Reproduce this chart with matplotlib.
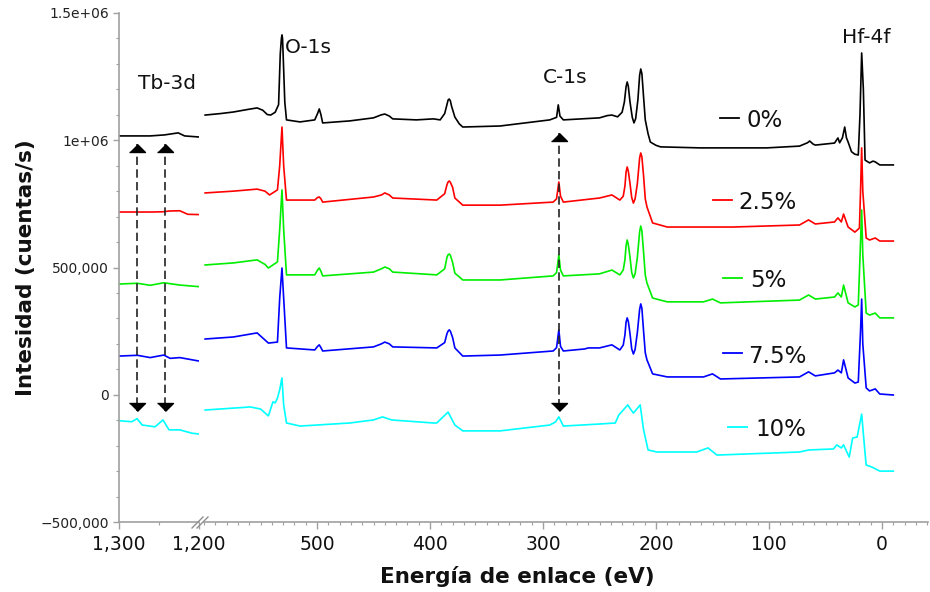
import matplotlib
matplotlib.use("Agg")
import matplotlib.pyplot as plt
from matplotlib.lines import Line2D
from matplotlib.ticker import FixedLocator, FixedFormatter, MultipleLocator
from matplotlib.transforms import offset_copy
import numpy as np

plt.rcParams['font.family'] = ['DejaVu Sans']

# ---------------- data (binding energy in eV, intensity in kcounts/s) -------------
labels = ['0%', '2.5%', '5%', '7.5%', '10%']
colors = ['#000000', '#ff0000', '#00ee00', '#0000ff', '#00ffff']

# right panel (600 .. -10 eV)
e_r_0 = [599, 585, 574, 560, 553, 548, 544, 541, 537, 534, 532.5, 531.5, 531, 530.5, 530, 528.5, 527, 515, 502, 499.5,
         498, 496.5, 495, 471, 450, 443, 440, 436, 433, 412, 397, 391, 387, 385, 384, 383, 382, 381, 378, 374,
         371, 338, 294, 288, 286.5, 285, 282, 250, 243, 239, 234, 230, 228, 226.5, 225.5, 224.5, 223, 221, 219.5, 218,
         216, 214.5, 213.5, 212.5, 211, 209.5, 207, 205, 200, 196, 161, 102, 73, 66, 64, 61, 59, 42, 39, 37.5,
         35, 33, 31.5, 30, 27, 24, 21, 19.5, 18, 16.5, 15, 11, 8, 6, 2, -10]
i_r_0 = [1099, 1105, 1111, 1122, 1127, 1118, 1101, 1099, 1110, 1140, 1340, 1400, 1414, 1400, 1340, 1150, 1080, 1072, 1080, 1105,
         1123, 1100, 1068, 1076, 1088, 1100, 1103, 1095, 1084, 1080, 1084, 1080, 1105, 1140, 1158, 1162, 1155, 1135, 1091, 1064,
         1052, 1056, 1080, 1090, 1139, 1095, 1080, 1088, 1097, 1099, 1092, 1110, 1150, 1210, 1229, 1212, 1150, 1090, 1068, 1085,
         1160, 1255, 1280, 1262, 1170, 1080, 1025, 993, 980, 974, 970, 970, 977, 990, 997, 985, 981, 989, 1009, 990,
         1010, 1052, 1010, 993, 955, 945, 942, 1100, 1343, 1200, 922, 911, 918, 915, 903, 903]

e_r_1 = [599, 574, 553, 546, 542, 535, 533, 531, 529.5, 527, 502, 499.5, 498, 496.5, 495, 450, 443, 440, 436, 433,
         394, 387, 385, 384, 383, 382, 380, 378, 371, 338, 291, 288, 286, 284.5, 282, 250, 239, 232, 229, 227.5,
         226.5, 225.5, 224.5, 223, 221.5, 220, 218.5, 216.5, 214.5, 213.5, 212.5, 211, 209.5, 208, 203, 190, 132, 73, 65, 59,
         42, 39, 36, 34, 30, 24, 20, 19, 18, 17, 14, 11, 6, 2, -10]
i_r_1 = [793, 800, 808, 800, 785, 805, 900, 1052, 900, 765, 765, 775, 777, 770, 757, 777, 785, 793, 785, 773,
         765, 790, 825, 836, 840, 835, 815, 773, 745, 745, 757, 770, 836, 780, 757, 773, 785, 765, 780, 820,
         875, 895, 878, 830, 775, 753, 770, 830, 930, 950, 935, 860, 770, 738, 675, 659, 659, 667, 687, 671,
         679, 695, 679, 710, 659, 639, 655, 800, 970, 800, 616, 608, 616, 604, 604]

e_r_2 = [599, 574, 553, 546, 543, 535, 533, 531, 529.5, 527, 502, 499.5, 498, 496.5, 495, 450, 443, 440, 436, 433,
         394, 387, 385, 384, 383, 382, 380, 378, 371, 338, 291, 288, 286, 284.5, 282, 250, 239, 232, 229, 227.5,
         226.5, 225.5, 224.5, 223, 221.5, 220, 218.5, 216.5, 214.5, 213.5, 212.5, 211, 209.5, 208, 203, 190, 158, 150, 143, 73,
         65, 59, 42, 39, 36, 34, 30, 24, 21, 19, 18, 17, 14, 11, 6, 2, -10]
i_r_2 = [510, 518, 530, 512, 498, 522, 650, 805, 650, 471, 471, 490, 498, 485, 467, 482, 495, 502, 495, 482,
         471, 495, 540, 550, 553, 548, 520, 478, 451, 451, 467, 480, 549, 490, 467, 475, 490, 471, 490, 530,
         585, 608, 590, 540, 480, 459, 475, 540, 640, 663, 645, 560, 470, 439, 380, 365, 365, 376, 361, 372,
         392, 376, 384, 400, 384, 431, 361, 345, 353, 600, 726, 550, 321, 313, 321, 302, 302]

e_r_3 = [599, 574, 553, 546, 543, 535, 533, 531, 529.5, 527, 502, 499.5, 498, 496.5, 495, 450, 443, 440, 436, 433,
         394, 387, 385, 384, 383, 382, 380, 378, 371, 338, 291, 288, 286, 284.5, 282, 263, 260, 250, 239, 232,
         229, 227.5, 226.5, 225.5, 224.5, 223, 221.5, 220, 218.5, 216.5, 214.5, 213.5, 212.5, 211, 209.5, 208, 203, 190, 158, 150,
         143, 73, 65, 59, 42, 39, 36, 34, 30, 24, 21, 19, 18, 17, 14, 11, 6, 2, -10]
i_r_3 = [219, 227, 243, 215, 203, 207, 380, 498, 380, 184, 176, 190, 196, 185, 172, 188, 200, 207, 200, 188,
         184, 205, 240, 250, 255, 250, 225, 184, 152, 156, 172, 185, 255, 190, 172, 180, 184, 184, 196, 176,
         195, 235, 285, 302, 288, 240, 180, 160, 178, 245, 335, 357, 340, 250, 165, 137, 82, 70, 70, 82,
         62, 70, 90, 74, 86, 97, 86, 137, 66, 46, 50, 250, 376, 200, 27, 15, 23, 3, -1]

e_r_4 = [599, 559, 550, 543, 539, 537, 535, 533, 531, 529.5, 527, 515, 471, 450, 442, 434, 397, 394, 384, 378,
         371, 338, 294, 289, 286, 282, 250, 236, 233, 225, 222, 220, 214, 211, 207, 199, 164, 154, 146, 73,
         65, 43, 40, 36, 34, 29, 26, 22, 18, 15, 14, 9, 2, -10]
i_r_4 = [-60, -48, -56, -83, -28, -32, -13, 20, 66, -40, -111, -123, -111, -99, -87, -99, -111, -111, -68, -119,
         -142, -142, -119, -107, -87, -123, -115, -111, -80, -40, -60, -72, -40, -138, -217, -225, -225, -209, -237, -225,
         -217, -213, -197, -209, -197, -245, -170, -166, -76, -230, -276, -284, -300, -300]

# left panel (1300 .. 1200 eV, Tb-3d region)
e_l_0 = [1300, 1261, 1243, 1226, 1218, 1201]
i_l_0 = [1017, 1017, 1021, 1029, 1017, 1013]
e_l_1 = [1300, 1260, 1245, 1237, 1224, 1214, 1201]
i_l_1 = [718, 718, 719, 722, 723, 709, 708]
e_l_2 = [1300, 1277, 1261, 1244, 1224, 1201]
i_l_2 = [435, 438, 430, 440, 431, 425]
e_l_3 = [1300, 1277, 1261, 1244, 1236, 1224, 1201]
i_l_3 = [152, 155, 146, 156, 143, 146, 133]
e_l_4 = [1300, 1284, 1277.5, 1271, 1255, 1245, 1237.5, 1224, 1209, 1201]
i_l_4 = [-102, -106, -94, -119, -126, -99, -138, -138, -151, -154]

right_e = [e_r_0, e_r_1, e_r_2, e_r_3, e_r_4]
right_i = [i_r_0, i_r_1, i_r_2, i_r_3, i_r_4]
left_e = [e_l_0, e_l_1, e_l_2, e_l_3, e_l_4]
left_i = [i_l_0, i_l_1, i_l_2, i_l_3, i_l_4]

ytick_vals = [-500000, 0, 500000, 1000000, 1500000]
ytick_labels = ['\u2212500,000', '0', '500,000', '1e+06', '1.5e+06']
xtick_right = [500, 400, 300, 200, 100, 0]
xtick_right_labels = ['500', '400', '300', '200', '100', '0']
xtick_left = [1300, 1200]
xtick_left_labels = ['1,300', '1,200']

# arrows marking peaks: energy, top and bottom (counts/s)
tb_arrows_e = [1277.5, 1242.5]
c_arrow_e = [286]
arrow_top_tb = 985000
arrow_top_c = 1030000
arrow_bottom = -63000

# ---------------- layout ----------------
W, H = 930, 592
fig = plt.figure(figsize=(W / 100, H / 100), dpi=100)


def fx(px):
    return px / W


def fy(py):
    return 1 - py / H


ax_l = fig.add_axes([fx(119), fy(522), fx(199) - fx(119), fy(13) - fy(522)])
ax_r = fig.add_axes([fx(204), fy(522), fx(928) - fx(204), fy(13) - fy(522)])

spine_c = '#a0a0a0'
for ax in (ax_l, ax_r):
    ax.set_ylim(-500000, 1500000)
    ax.spines['top'].set_visible(False)
    ax.spines['right'].set_visible(False)
    ax.spines['bottom'].set_color(spine_c)
    ax.spines['bottom'].set_linewidth(1.2)
    ax.spines['left'].set_color(spine_c)
    ax.spines['left'].set_linewidth(1.2)
    ax.tick_params(axis='x', which='major', direction='out', length=5, width=1, color=spine_c,
                   labelsize=13.5, pad=4, labelcolor='#111111')
    ax.tick_params(axis='x', which='minor', direction='out', length=2.5, width=0.8, color=spine_c)
    ax.patch.set_alpha(0)

ax_l.set_xlim(1300, 1200)
ax_r.set_xlim(600, -40.7)

ax_r.spines['left'].set_visible(False)
ax_r.tick_params(axis='y', which='both', left=False, labelleft=False)

ax_l.yaxis.set_major_locator(FixedLocator(ytick_vals))
ax_l.yaxis.set_major_formatter(FixedFormatter(ytick_labels))
ax_l.yaxis.set_minor_locator(MultipleLocator(100000))
ax_l.tick_params(axis='y', which='major', direction='out', length=4, width=1, color=spine_c,
                 labelsize=10, pad=3, labelcolor='#222222')
ax_l.tick_params(axis='y', which='minor', direction='out', length=2.5, width=0.8, color=spine_c)

ax_l.xaxis.set_major_locator(FixedLocator(xtick_left))
ax_l.xaxis.set_major_formatter(FixedFormatter(xtick_left_labels))
ax_l.xaxis.set_minor_locator(FixedLocator([1250]))

ax_r.xaxis.set_major_locator(FixedLocator(xtick_right))
ax_r.xaxis.set_major_formatter(FixedFormatter(xtick_right_labels))
ax_r.xaxis.set_minor_locator(MultipleLocator(10))

# spectra
for k in range(5):
    ax_r.plot(right_e[k], np.array(right_i[k]) * 1000, color=colors[k], lw=1.2, solid_joinstyle='round')
    ax_l.plot(left_e[k], np.array(left_i[k]) * 1000, color=colors[k], lw=1.2, solid_joinstyle='round')

# dashed double arrows
tri_up = [(-1, -0.5), (1, -0.5), (0, 0.5)]
tri_dn = [(-1, 0.5), (1, 0.5), (0, -0.5)]


def double_arrow(ax, x, ytop, ybot):
    ax.plot([x, x], [ytop, ybot], color='#222222', lw=1.2, ls=(0, (5, 2.6)))
    t_up = offset_copy(ax.transData, fig=fig, x=0, y=-4, units='dots')
    t_dn = offset_copy(ax.transData, fig=fig, x=0, y=4, units='dots')
    ax.plot([x], [ytop], marker=tri_up, ms=11.5, color='black', transform=t_up, clip_on=False)
    ax.plot([x], [ybot], marker=tri_dn, ms=11.5, color='black', transform=t_dn, clip_on=False)


for e in tb_arrows_e:
    double_arrow(ax_l, e, arrow_top_tb, arrow_bottom)
for e in c_arrow_e:
    double_arrow(ax_r, e, arrow_top_c, arrow_bottom)

# peak labels
fig.text(fx(138), fy(89), 'Tb-3d', fontsize=14.5, va='baseline', ha='left', color='#111111')
fig.text(fx(285), fy(53), 'O-1s', fontsize=14.5, va='baseline', ha='left', color='#111111')
fig.text(fx(543), fy(83), 'C-1s', fontsize=14.5, va='baseline', ha='left', color='#111111')
fig.text(fx(842), fy(43), 'Hf-4f', fontsize=14.5, va='baseline', ha='left', color='#111111')

# series labels (placed beside each curve)
leg_line_x0 = [720, 713, 723, 723, 728]
leg_y = [118, 200, 278, 353, 427]
leg_text_x = [746, 738, 750, 748, 755]
leg_base = [127, 209, 287, 363, 436]
for k in range(5):
    fig.add_artist(Line2D([fx(leg_line_x0[k]), fx(leg_line_x0[k] + 19)], [fy(leg_y[k]), fy(leg_y[k])],
                          color=colors[k], lw=1.3))
    fig.text(fx(leg_text_x[k]), fy(leg_base[k]), labels[k], fontsize=16.5, va='baseline', ha='left',
             color='#111111')

# break marks
for dx in (0, 5):
    fig.add_artist(Line2D([fx(192 + dx), fx(203 + dx)], [fy(528), fy(517)], color='#909090', lw=1))

# axis titles
fig.text(fx(517), fy(583), 'Energía de enlace (eV)', fontsize=15.5, fontweight='bold',
         ha='center', va='baseline', color='#111111')
fig.text(fx(26), fy(268), 'Intesidad (cuentas/s)', fontsize=15.5, fontweight='bold',
         ha='center', va='center', rotation=90, color='#111111')

fig.savefig('out.png', dpi=100)
